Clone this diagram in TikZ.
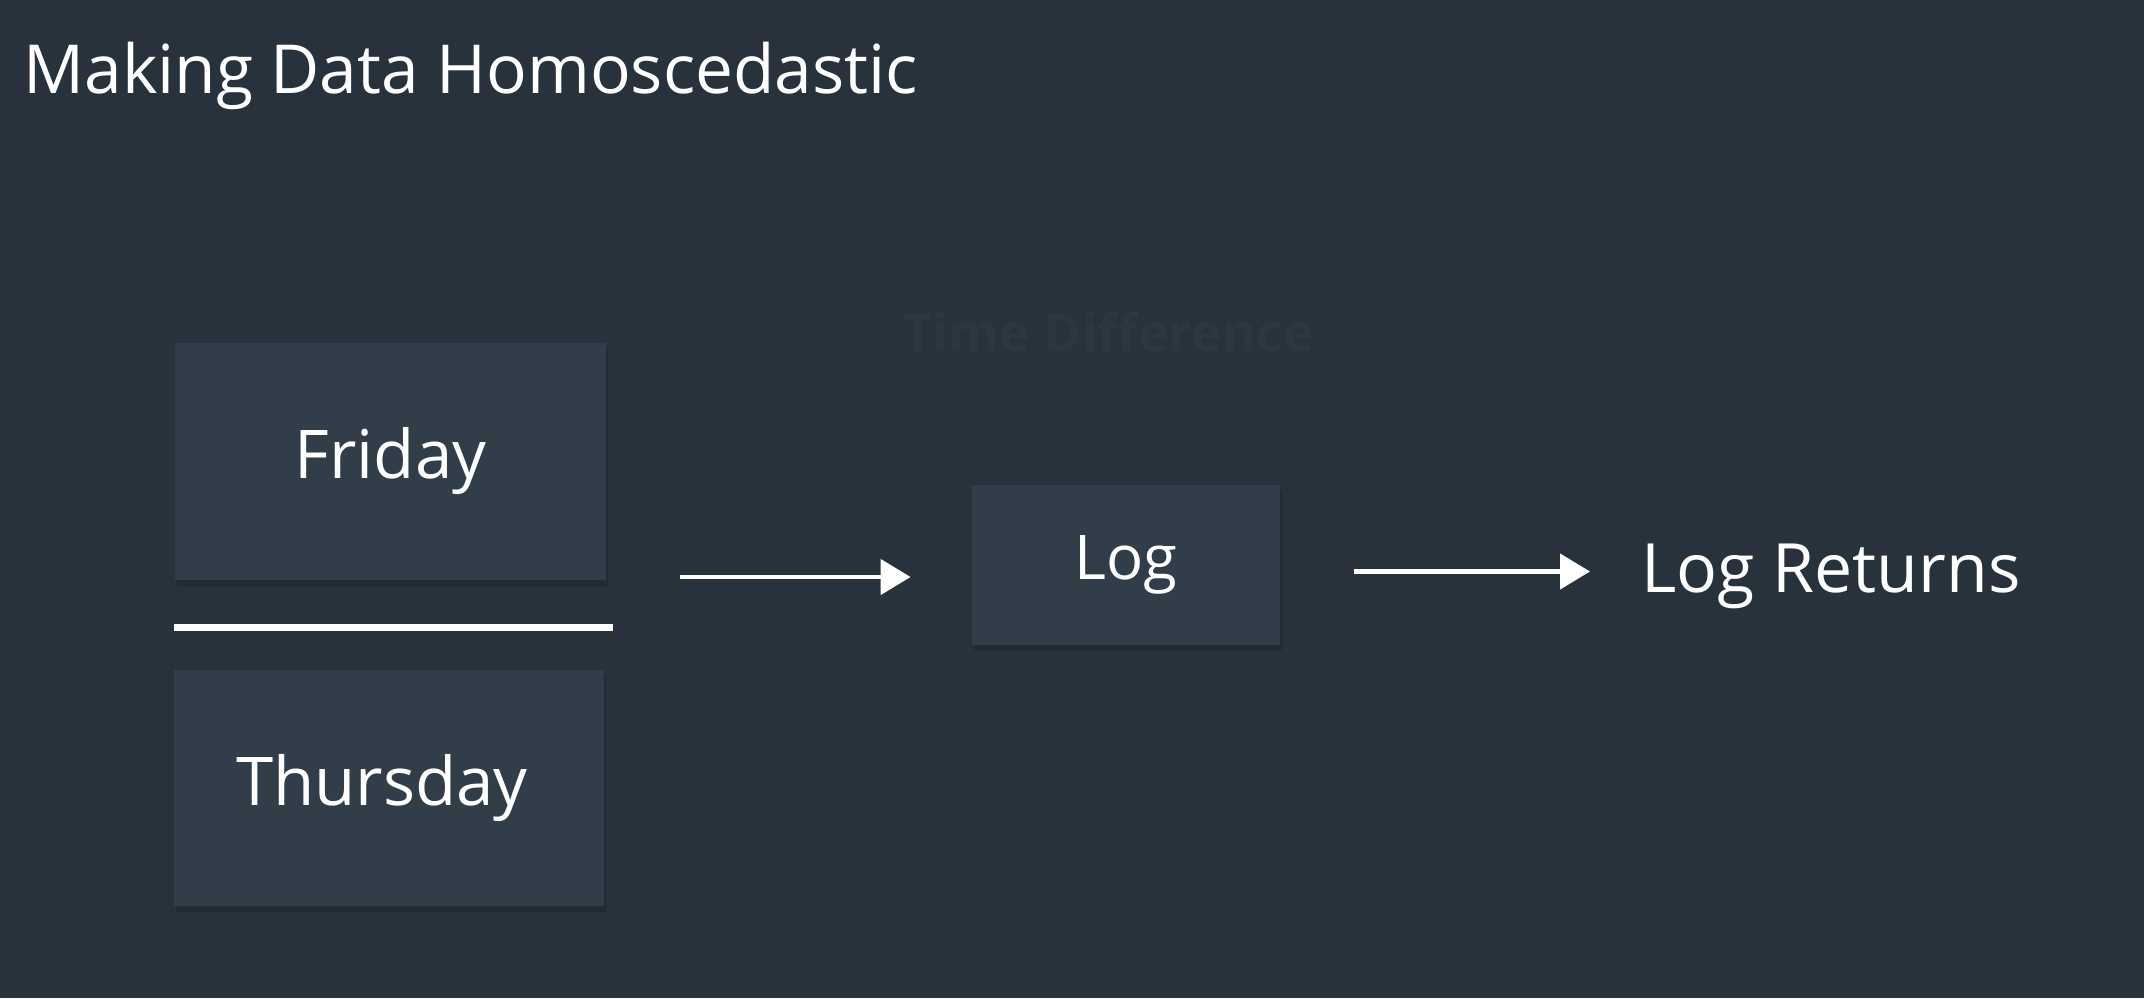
\documentclass[tikz,border=0pt]{standalone}
\usepackage{fontspec}
\setmainfont{Open Sans}
\usetikzlibrary{arrows.meta,shadows}
\definecolor{bgc}{HTML}{28323C}
\definecolor{boxc}{HTML}{323D4A}
\definecolor{fadec}{HTML}{2D3741}
\tikzset{
  cardbox/.style={fill=boxc, draw=none, inner sep=0pt, text=white,
    drop shadow={shadow xshift=1pt, shadow yshift=-3pt, opacity=0.15, fill=black}},
  flowarrow/.style={draw=white, line width=2.3pt, -{Triangle[length=15pt,width=17.5pt]}},
}
\begin{document}
\begin{tikzpicture}[x=0.5pt,y=-0.5pt]
\fill[bgc] (0,0) rectangle (2144,998);
\useasboundingbox (0,0) rectangle (2144,998);
\node[anchor=base west, inner sep=0pt, text=white, font=\fontsize{33.8}{40}\selectfont] (title) at (23,93) {Making Data Homoscedastic};
\node[anchor=base west, inner sep=0pt, text=fadec, font=\fontsize{26}{32}\selectfont\bfseries] (timediff) at (902,351) {Time Difference};
\node[cardbox, minimum width=215.5pt, minimum height=118.5pt, font=\fontsize{33.6}{40}\selectfont] (fri) at (390.5,461.5) {\raisebox{-2pt}{Friday}};
\node[cardbox, minimum width=215pt, minimum height=118.25pt, font=\fontsize{33.6}{40}\selectfont] (thu) at (389,788) {\hspace*{-7pt}Thursday};
\draw[white, line width=3.2pt] (174,627.6) coordinate (sepL) -- (612.5,627.6) coordinate (sepR);
\node[cardbox, minimum width=154pt, minimum height=80pt, font=\fontsize{30.8}{37}\selectfont] (log) at (1126,565) {\raisebox{-2pt}{Log}};
\node[anchor=base west, inner sep=0pt, text=white, font=\fontsize{34}{41}\selectfont] (ret) at (1641,592) {Log Returns};
\coordinate (a1s) at (679.5,577);
\coordinate (a1e) at (910.6,577);
\coordinate (a2s) at (1353.6,571.5);
\coordinate (a2e) at (1590,571.5);
\draw[flowarrow] (a1s) -- (a1e);
\draw[flowarrow] (a2s) -- (a2e);
\end{tikzpicture}
\end{document}
